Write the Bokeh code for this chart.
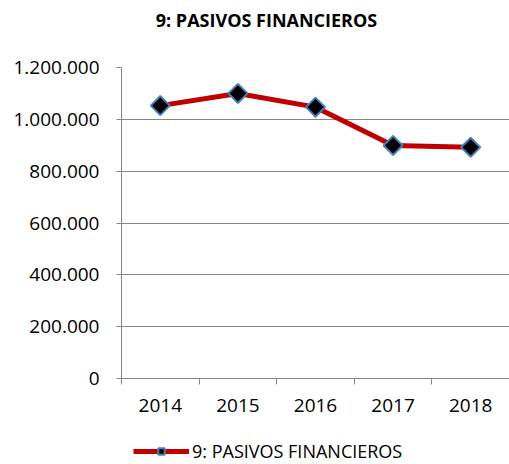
from bokeh.plotting import figure
from bokeh.models import Range1d, FixedTicker, Legend, LegendItem, Label
from bokeh.layouts import column
from bokeh.embed import file_html
from bokeh.resources import INLINE
import math

years = ["2014", "2015", "2016", "2017", "2018"]
values = [1053000, 1100000, 1047000, 899000, 892000]
y_ticks = [0, 200000, 400000, 600000, 800000, 1000000, 1200000]
series_name = "9: PASIVOS FINANCIEROS"
title_text = "9: PASIVOS FINANCIEROS"

FONT = "Open Sans"
GRID = "#868686"
LINE_COLOR = "#C00000"
MARKER_FILL = "#000000"
MARKER_LINE = "#4A7EBB"

xs = [i + 0.5 for i in range(len(years))]


def strip(h):
    f = figure(width=509, height=h, output_backend="svg", toolbar_location=None,
               x_range=Range1d(0, len(years)), y_range=Range1d(0, 1200000),
               min_border=0, min_border_left=0, min_border_right=0,
               min_border_top=0, min_border_bottom=0)
    f.axis.visible = False
    f.grid.visible = False
    f.outline_line_color = None
    return f


# title strip
tf = strip(40)
tf.add_layout(Label(x=145, y=21, x_units="screen", y_units="screen",
                    text=title_text, text_font=FONT, text_font_size="18px",
                    text_font_style="bold", text_color="#000000",
                    text_align="center", text_baseline="middle"))

# main chart
p = figure(width=509, height=390, output_backend="svg", toolbar_location=None,
           x_range=Range1d(0, len(years)), y_range=Range1d(0, 1200000),
           min_border_left=121, min_border_right=0, min_border_top=27,
           min_border_bottom=52)
p.outline_line_color = None
p.background_fill_color = "white"
p.border_fill_color = "white"

# y axis
p.yaxis.ticker = FixedTicker(ticks=y_ticks)
p.yaxis.major_label_overrides = {v: f"{v:,}".replace(",", ".") for v in y_ticks}
p.yaxis.major_label_text_font = FONT
p.yaxis.major_label_text_font_size = "19px"
p.yaxis.major_label_text_color = "#000000"
p.yaxis.axis_line_color = GRID
p.yaxis.major_tick_line_color = GRID
p.yaxis.major_tick_out = 5
p.yaxis.major_tick_in = 0
p.yaxis.minor_tick_line_color = None
p.yaxis.major_label_standoff = 17

# x axis: ticks at category boundaries (minor), labels at centers (major)
p.xaxis.ticker = FixedTicker(ticks=xs, minor_ticks=list(range(len(years) + 1)))
p.xaxis.major_label_overrides = {x: y for x, y in zip(xs, years)}
p.xaxis.major_label_text_font = FONT
p.xaxis.major_label_text_font_size = "19px"
p.xaxis.major_label_text_color = "#000000"
p.xaxis.axis_line_color = GRID
p.xaxis.major_tick_line_color = None
p.xaxis.major_tick_out = 0
p.xaxis.major_tick_in = 0
p.xaxis.minor_tick_line_color = GRID
p.xaxis.minor_tick_out = 6
p.xaxis.minor_tick_in = 0
p.xaxis.major_label_standoff = 14

p.xgrid.grid_line_color = None
p.ygrid.grid_line_color = GRID
p.ygrid.grid_line_width = 1

line = p.line(xs, values, line_color=LINE_COLOR, line_width=5)
pts = p.scatter(xs, values, marker="square", angle=math.pi / 4, size=13.5,
                fill_color=MARKER_FILL, line_color=MARKER_LINE, line_width=2)

# legend strip below the chart (its renderers are hidden; only the key shows)
lg = strip(34)
lg_line = lg.line(xs, values, line_color=LINE_COLOR, line_width=5, visible=False)
lg_pts = lg.scatter(xs, values, marker="square", angle=math.pi / 4, size=13.5,
                    fill_color=MARKER_FILL, line_color=MARKER_LINE,
                    line_width=2, visible=False)
legend = Legend(items=[LegendItem(label=series_name, renderers=[lg_line, lg_pts])],
                location=(12, 1), orientation="horizontal",
                label_text_font=FONT, label_text_font_size="18px",
                label_text_color="#000000", glyph_width=56, glyph_height=16,
                label_standoff=3, border_line_color=None,
                background_fill_alpha=0, padding=0, margin=0)
lg.add_layout(legend, "center")

layout = column(tf, p, lg, spacing=0)
open("out.html", "w").write(file_html(layout, INLINE))
